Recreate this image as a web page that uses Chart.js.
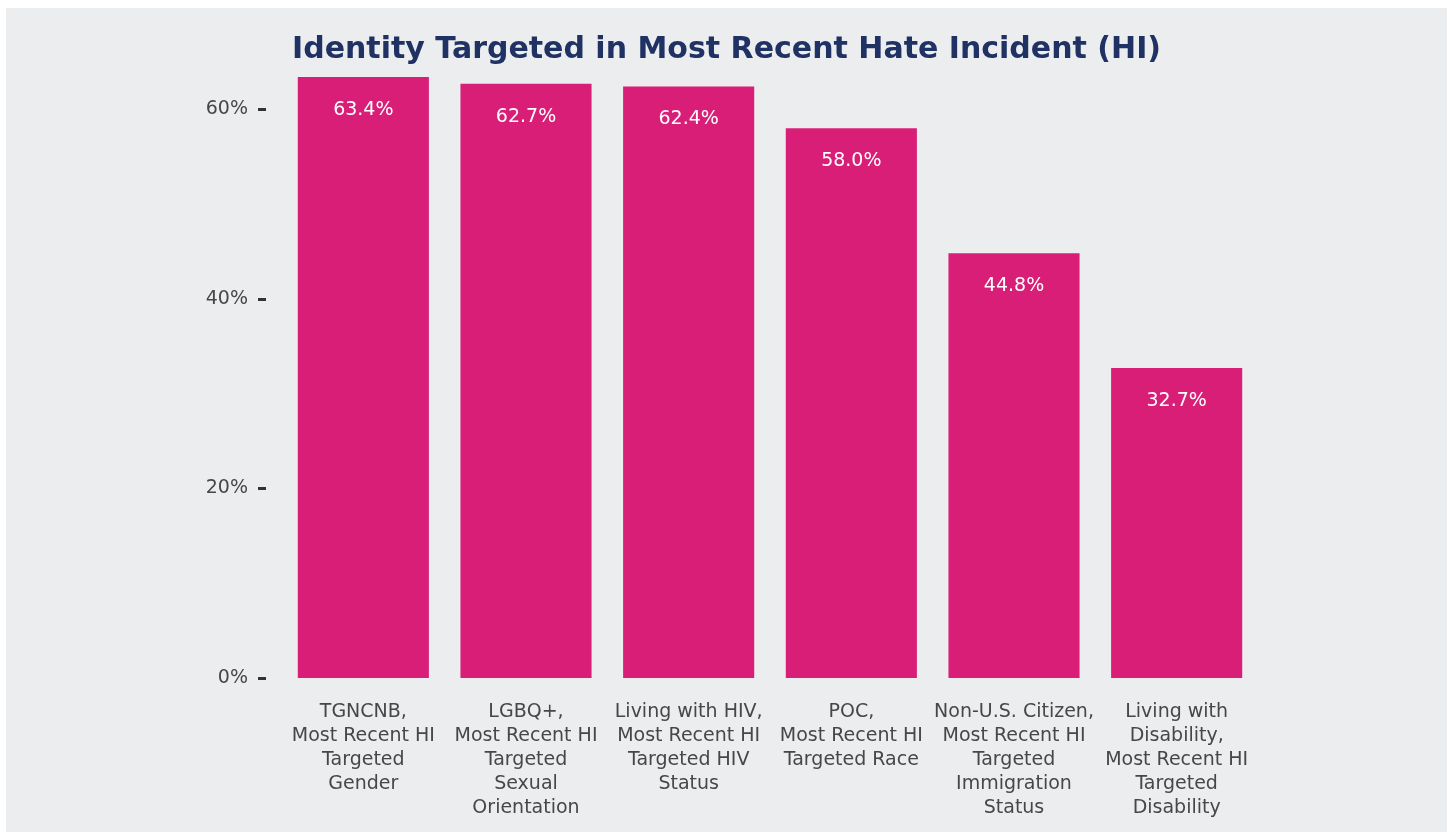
<!DOCTYPE html>
<html>
<head>
<meta charset="utf-8">
<script src="https://cdn.jsdelivr.net/npm/chart.js@4"></script>
<style>
  body { margin: 0; background: #fff; }
  #wrap { position: absolute; left: 6px; top: 8px; width: 1441px; height: 824px; background: #ECEDEF; }
</style>
</head>
<body>
<div id="wrap"><canvas id="chart"></canvas></div>
<script>
const categories = [
    ['TGNCNB,', 'Most Recent HI', 'Targeted', 'Gender'],
    ['LGBQ+,', 'Most Recent HI', 'Targeted', 'Sexual', 'Orientation'],
    ['Living with HIV,', 'Most Recent HI', 'Targeted HIV', 'Status'],
    ['POC,', 'Most Recent HI', 'Targeted Race'],
    ['Non-U.S. Citizen,', 'Most Recent HI', 'Targeted', 'Immigration', 'Status'],
    ['Living with', 'Disability,', 'Most Recent HI', 'Targeted', 'Disability']
];
const values = [63.4, 62.7, 62.4, 58.0, 44.8, 32.7];
const yTicks = [0, 20, 40, 60];
const titleText = 'Identity Targeted in Most Recent Hate Incident (HI)';

const FONT = '"DejaVu Sans", sans-serif';
const TEXT = '#474747';

// title centred on the whole canvas
const titlePlugin = {
    id: 'titlePlugin',
    afterDraw(chart) {
        const ctx = chart.ctx;
        ctx.save();
        ctx.fillStyle = '#1F3263';
        ctx.font = 'bold 30px ' + FONT;
        ctx.textAlign = 'center';
        ctx.textBaseline = 'middle';
        ctx.fillText(titleText, chart.width / 2, 42);
        ctx.restore();
    }
};

// short dash next to each y tick label
const tickDash = {
    id: 'tickDash',
    afterDraw(chart) {
        const ctx = chart.ctx;
        const y = chart.scales.y;
        ctx.save();
        ctx.strokeStyle = '#333';
        ctx.lineWidth = 3;
        yTicks.forEach(v => {
            const py = Math.round(y.getPixelForValue(v)) + 0.5;
            ctx.beginPath();
            ctx.moveTo(y.right - 24, py);
            ctx.lineTo(y.right - 16, py);
            ctx.stroke();
        });
        ctx.restore();
    }
};

// value labels inside top of bars
const barLabels = {
    id: 'barLabels',
    afterDatasetsDraw(chart) {
        const ctx = chart.ctx;
        const meta = chart.getDatasetMeta(0);
        ctx.save();
        ctx.fillStyle = '#fff';
        ctx.font = '19px ' + FONT;
        ctx.textAlign = 'center';
        ctx.textBaseline = 'middle';
        meta.data.forEach((bar, i) => {
            ctx.fillText(values[i].toFixed(1) + '%', bar.x, bar.y + 33);
        });
        ctx.restore();
    }
};

new Chart(document.getElementById('chart'), {
    type: 'bar',
    data: {
        labels: categories,
        datasets: [{
            data: values,
            backgroundColor: '#D81E77',
            barPercentage: 0.806,
            categoryPercentage: 1.0
        }]
    },
    options: {
        responsive: true,
        maintainAspectRatio: false,
        animation: false,
        layout: { padding: { left: 0, right: 189, top: 69, bottom: 0 } },
        plugins: {
            legend: { display: false },
            tooltip: { enabled: false },
            title: { display: false }
        },
        scales: {
            y: {
                min: 0,
                max: 63.4,
                afterBuildTicks: s => { s.ticks = yTicks.map(v => ({ value: v })); },
                afterFit: s => { s.width = 276; },
                grid: { display: false },
                border: { display: false },
                ticks: {
                    padding: 26,
                    color: TEXT,
                    font: { family: FONT, size: 19 },
                    callback: v => v + '%'
                }
            },
            x: {
                afterFit: s => { s.height = 154; },
                grid: { display: false },
                border: { display: false },
                ticks: {
                    padding: 14,
                    color: TEXT,
                    maxRotation: 0,
                    autoSkip: false,
                    font: { family: FONT, size: 19, lineHeight: 1.263 }
                }
            }
        }
    },
    plugins: [titlePlugin, tickDash, barLabels]
});
</script>
</body>
</html>
